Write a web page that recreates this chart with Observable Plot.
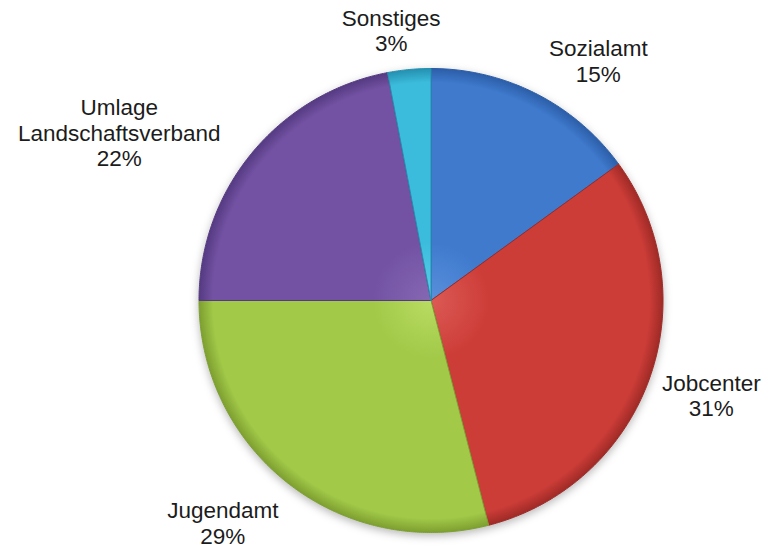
<!DOCTYPE html>
<html><head><meta charset="utf-8">
<script src="https://cdn.jsdelivr.net/npm/d3@7"></script>
<script src="https://cdn.jsdelivr.net/npm/@observablehq/plot@0.6"></script>
<style>
html,body{margin:0;padding:0;background:#fff;}
#chart svg{display:block;}
</style></head><body><div id="chart"></div>
<script>
// ---- data ----
const categories = ["Sozialamt", "Jobcenter", "Jugendamt", "Umlage\nLandschaftsverband", "Sonstiges"];
const shares = [15, 31, 29, 22, 3];
const percentLabels = ["15%", "31%", "29%", "22%", "3%"];
const baseColors = ["#3f7acd", "#cd3d38", "#a2c948", "#7352a3", "#3cbcdc"];
const lightColors = ["#5a90dc", "#dc5a55", "#b8dc62", "#8568b4", "#5ccfe9"];
const darkColors = ["#2c5ea8", "#9f2a26", "#7d9f30", "#553a82", "#2590b0"];

// ---- layout ----
const W = 773, H = 552, R = 232, CX = 430.5, CY = 300;
// label offsets (px) from the slice's outer mid point
const labelOffsets = [[62, -33], [62, 16], [-66, 39], [-133, -20], [-18, -39]];

const arcs = d3.pie().value(d => d).sort(null)(shares);
const slicePts = [];
arcs.forEach((p, i) => {
  const n = Math.max(2, Math.ceil((p.endAngle - p.startAngle) / (Math.PI / 360)));
  slicePts.push({i, x: 0, y: 0});
  for (let k = 0; k <= n; k++) {
    const a = p.startAngle + (p.endAngle - p.startAngle) * k / n;
    slicePts.push({i, x: Math.sin(a), y: Math.cos(a)});
  }
  slicePts.push({i, x: 0, y: 0});
});
const labels = arcs.map((p, i) => {
  const m = (p.startAngle + p.endAngle) / 2;
  return {i, x: Math.sin(m), y: Math.cos(m), text: categories[i] + "\n" + percentLabels[i]};
});

const textMarks = labels.map(l => Plot.text([l], {
  x: "x", y: "y", text: "text",
  dx: labelOffsets[l.i][0], dy: labelOffsets[l.i][1],
  fontSize: 22.5, lineHeight: 1.13, fill: "#1c1c1c",
  fontFamily: "Liberation Sans, Arial, sans-serif", textAnchor: "middle"
}));

const plot = Plot.plot({
  width: W, height: H, margin: 0,
  x: {domain: [-CX / R, (W - CX) / R], axis: null},
  y: {domain: [-(H - CY) / R, CY / R], axis: null},
  color: {type: "identity"},
  marks: [
    Plot.line(slicePts, {
      x: "x", y: "y", z: "i",
      fill: d => `url(#sg${d.i})`,
      stroke: d => darkColors[d.i],
      strokeWidth: 1, strokeLinejoin: "round", curve: "linear",
      className: "slices"
    }),
    ...textMarks
  ]
});

// gradients for the shaded slices
const xs = plot.scale("x"), ys = plot.scale("y");
const cx = xs.apply(0), cy = ys.apply(0), rr = xs.apply(1) - xs.apply(0);
const ns = "http://www.w3.org/2000/svg";
const defs = document.createElementNS(ns, "defs");
baseColors.forEach((c, i) => {
  const g = document.createElementNS(ns, "radialGradient");
  g.setAttribute("id", "sg" + i);
  g.setAttribute("gradientUnits", "userSpaceOnUse");
  g.setAttribute("cx", cx); g.setAttribute("cy", cy); g.setAttribute("r", rr);
  [[0, lightColors[i]], [0.25, c], [0.94, c], [1, darkColors[i]]].forEach(([o, col]) => {
    const s = document.createElementNS(ns, "stop");
    s.setAttribute("offset", o); s.setAttribute("stop-color", col);
    g.appendChild(s);
  });
  defs.appendChild(g);
});
plot.insertBefore(defs, plot.firstChild);
const sl = plot.querySelector("g.slices");
if (sl) sl.style.filter = "drop-shadow(0px 3px 4px rgba(0,0,0,0.28))";
document.getElementById("chart").appendChild(plot);
</script></body></html>
